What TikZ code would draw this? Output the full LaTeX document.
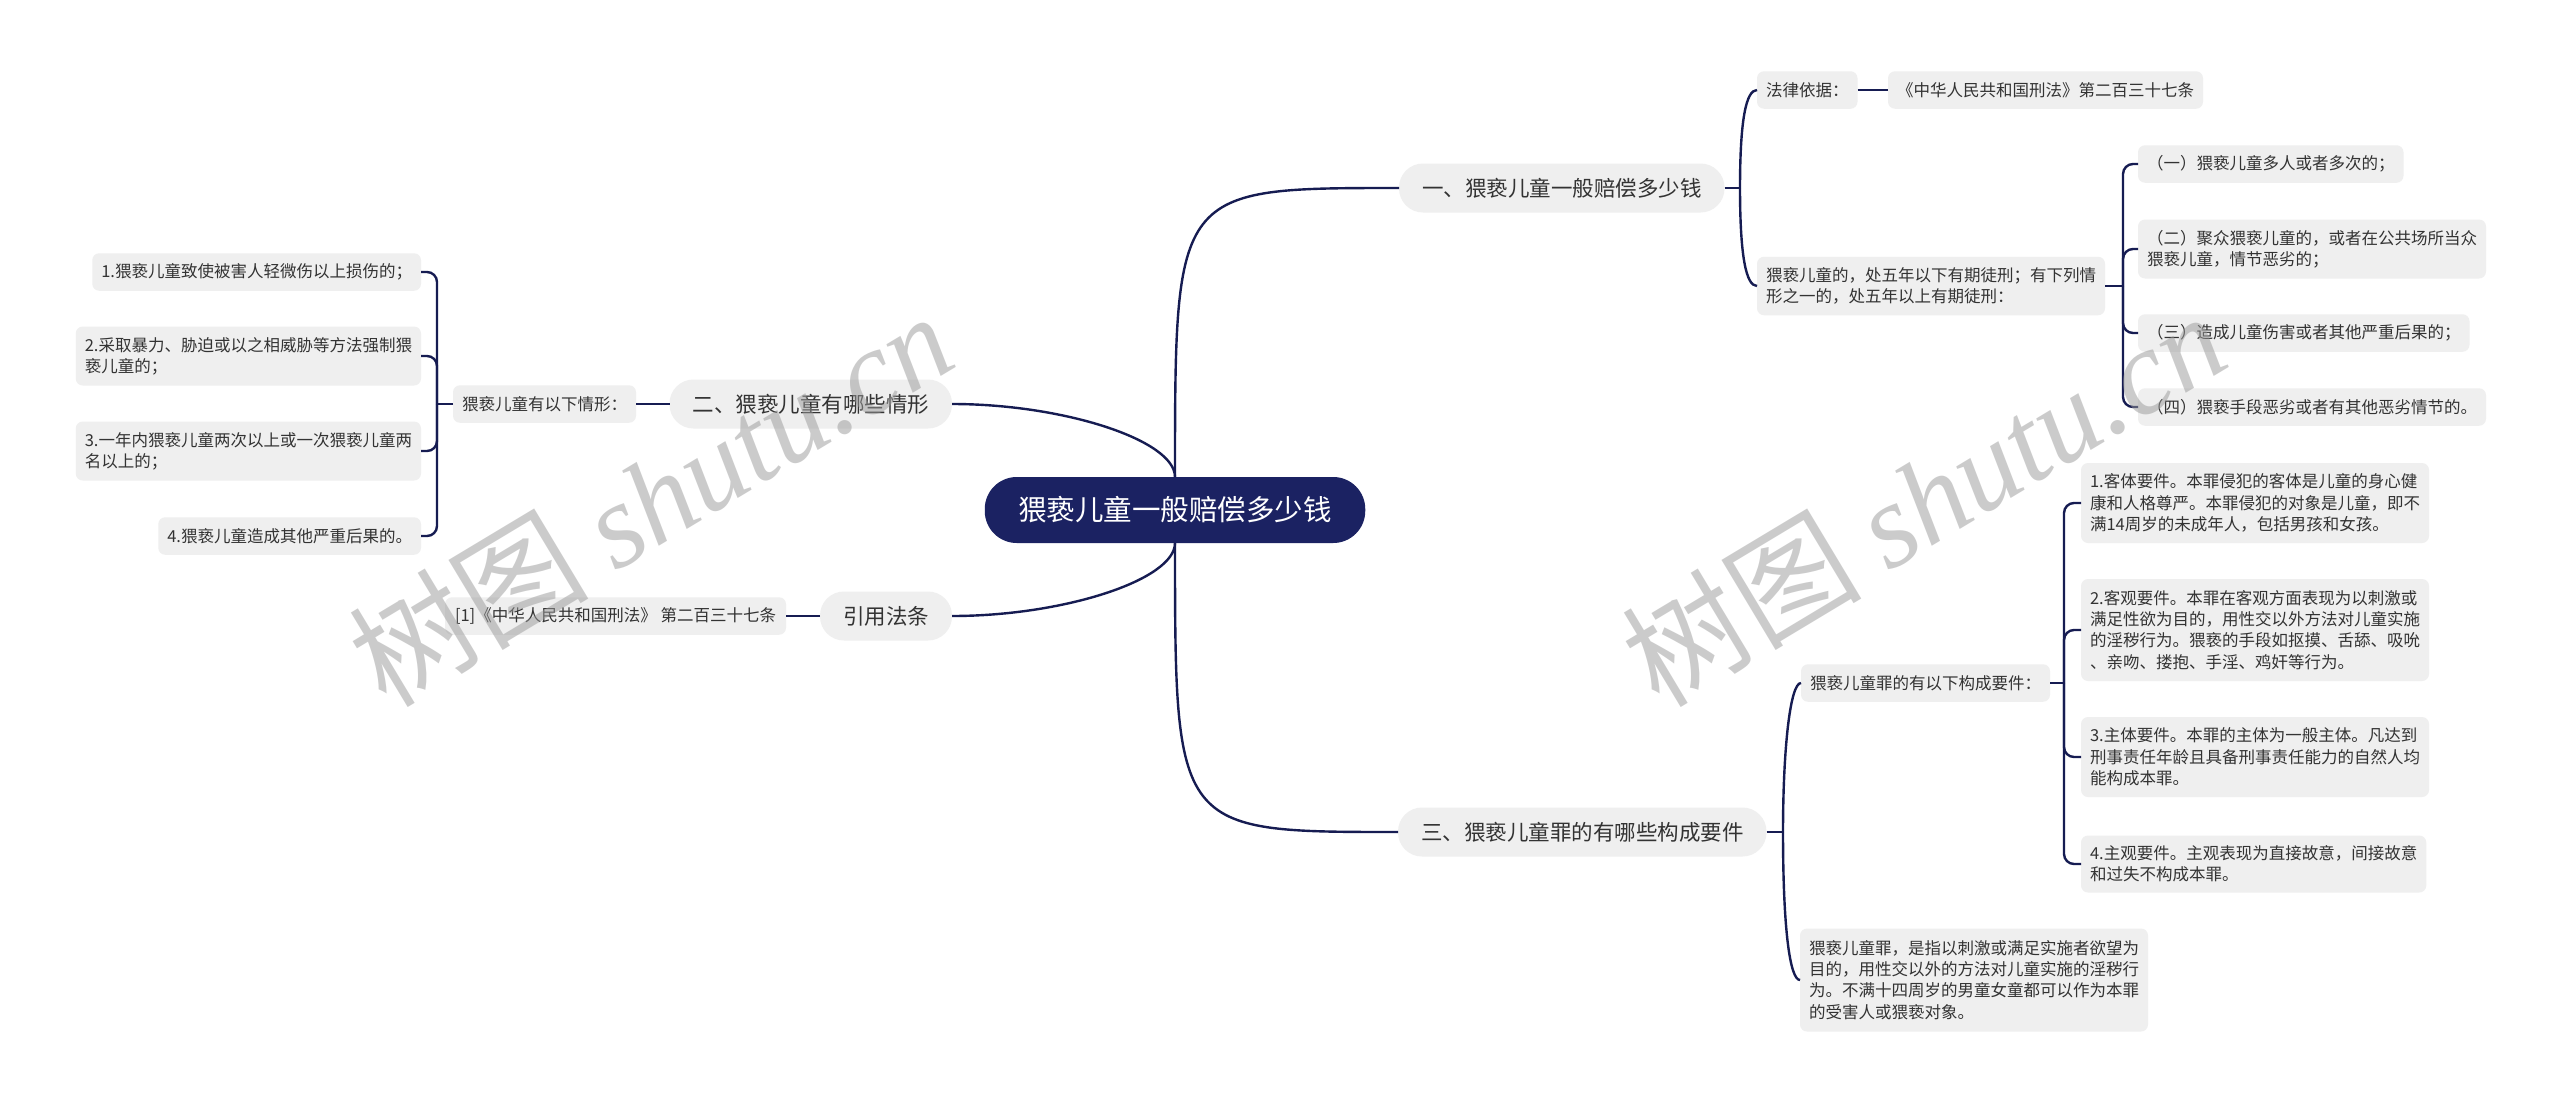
\documentclass[tikz,border=0pt]{standalone}
\usepackage{fontspec}
\newfontfamily\cjk{Noto Sans CJK SC}
\newfontfamily\wmserif{Liberation Serif}
\definecolor{navy}{RGB}{27,34,98}
\definecolor{lnc}{RGB}{22,28,82}
\definecolor{boxg}{RGB}{239,239,239}
\definecolor{txt}{RGB}{51,51,51}
\begin{document}
\begin{tikzpicture}[x=1pt,y=-1pt,
  every node/.style={inner sep=0pt, outer sep=0pt},
  leaf/.style={fill=boxg, rounded corners=7pt, text=txt, align=left,
    font=\cjk\fontsize{16.5}{21.3}\selectfont, inner xsep=9pt, inner ysep=3pt,
    minimum height=37.5pt},
  branch/.style={fill=boxg, rounded corners=24pt, text=txt,
    font=\cjk\fontsize{21.5}{26}\selectfont, inner xsep=23pt, inner ysep=3pt,
    minimum height=49pt},
  rootbox/.style={fill=navy, rounded corners=32pt, text=white,
    font=\cjk\fontsize{28.5}{34}\selectfont, inner xsep=33.5pt, inner ysep=3pt,
    minimum height=66pt},
  conn/.style={draw=lnc, line width=2.4pt},
  fork/.style={draw=lnc, line width=2.4pt, rounded corners=10pt},
  wmark/.style={rotate=31, text=black!40, opacity=0.5,
    font=\cjk\fontsize{120}{120}\selectfont}
]
\fill[white] (0,0) rectangle (2560,1103);
\useasboundingbox (0,0) rectangle (2560,1103);

% root and branches
\node[rootbox] (root) at (1175,510) {猥亵儿童一般赔偿多少钱};
\node[branch, anchor=west] (b1) at (1399,188) {一、猥亵儿童一般赔偿多少钱};
\node[branch, anchor=east] (b2) at (952,404) {二、猥亵儿童有哪些情形};
\node[branch, anchor=east] (b3) at (952,616) {引用法条};
\node[branch, anchor=west] (b4) at (1398,832) {三、猥亵儿童罪的有哪些构成要件};

% branch 1
\node[leaf, anchor=west] (l1) at (1757,90) {法律依据：};
\node[leaf, anchor=west] (l1b) at (1888,90) {《中华人民共和国刑法》第二百三十七条};
\node[leaf, anchor=west, minimum height=58.5pt] (l2) at (1757,286) {猥亵儿童的，处五年以下有期徒刑；有下列情\\形之一的，处五年以上有期徒刑：};
\node[leaf, anchor=west] (m1) at (2138,164) {（一）猥亵儿童多人或者多次的；};
\node[leaf, anchor=west, minimum height=59pt] (m2) at (2138,249) {（二）聚众猥亵儿童的，或者在公共场所当众\\猥亵儿童，情节恶劣的；};
\node[leaf, anchor=west] (m3) at (2138,333) {（三）造成儿童伤害或者其他严重后果的；};
\node[leaf, anchor=west] (m4) at (2138,407) {（四）猥亵手段恶劣或者有其他恶劣情节的。};

% branch 2
\node[leaf, anchor=east] (q) at (636,404) {猥亵儿童有以下情形：};
\node[leaf, anchor=east] (c1) at (421,272) {1.猥亵儿童致使被害人轻微伤以上损伤的；};
\node[leaf, anchor=east, minimum height=59pt] (c2) at (421,356) {2.采取暴力、胁迫或以之相威胁等方法强制猥\\亵儿童的；};
\node[leaf, anchor=east, minimum height=59pt] (c3) at (421,451) {3.一年内猥亵儿童两次以上或一次猥亵儿童两\\名以上的；};
\node[leaf, anchor=east] (c4) at (421,536) {4.猥亵儿童造成其他严重后果的。};

% branch 引用法条
\node[leaf, anchor=east, minimum width=341pt] (r) at (786,616) {[1]《中华人民共和国刑法》 第二百三十七条};

% branch 3
\node[leaf, anchor=west] (k) at (1801,683) {猥亵儿童罪的有以下构成要件：};
\node[leaf, anchor=west, minimum height=103pt] (d) at (1800,980) {猥亵儿童罪，是指以刺激或满足实施者欲望为\\目的，用性交以外的方法对儿童实施的淫秽行\\为。不满十四周岁的男童女童都可以作为本罪\\的受害人或猥亵对象。};
\node[leaf, anchor=west, minimum height=80pt] (k1) at (2081,503) {1.客体要件。本罪侵犯的客体是儿童的身心健\\康和人格尊严。本罪侵犯的对象是儿童，即不\\满14周岁的未成年人，包括男孩和女孩。};
\node[leaf, anchor=west, minimum height=102pt] (k2) at (2081,630) {2.客观要件。本罪在客观方面表现为以刺激或\\满足性欲为目的，用性交以外方法对儿童实施\\的淫秽行为。猥亵的手段如抠摸、舌舔、吸吮\\、亲吻、搂抱、手淫、鸡奸等行为。};
\node[leaf, anchor=west, minimum height=80pt] (k3) at (2081,757) {3.主体要件。本罪的主体为一般主体。凡达到\\刑事责任年龄且具备刑事责任能力的自然人均\\能构成本罪。};
\node[leaf, anchor=west, minimum height=57pt] (k4) at (2081,864) {4.主观要件。主观表现为直接故意，间接故意\\和过失不构成本罪。};

% junction points
\coordinate (j1) at (1740,188);
\coordinate (j2) at (2123,286);
\coordinate (jq) at (437,404);
\coordinate (j4) at (1783,832);
\coordinate (jk) at (2064,683);

% root connectors
\draw[conn] (root.north) .. controls (1175,188) .. (b1.west);
\draw[conn] (root.south) .. controls (1175,832) .. (b4.west);
\draw[conn] (root.north) .. controls (1175,440) and (1063,404) .. (b2.east);
\draw[conn] (root.south) .. controls (1175,580) and (1063,616) .. (b3.east);

% branch 1 connectors
\draw[conn] (b1.east) -- (j1);
\draw[conn] (j1) .. controls (1740,120) and (1746,90) .. (l1.west);
\draw[conn] (j1) .. controls (1740,256) and (1746,286) .. (l2.west);
\draw[conn] (l1.east) -- (l1b.west);
\draw[conn] (l2.east) -- (j2);
\draw[fork] (j2) |- (m1.west);
\draw[fork] (j2) |- (m2.west);
\draw[fork] (j2) |- (m3.west);
\draw[fork] (j2) |- (m4.west);

% branch 2 connectors
\draw[conn] (b2.west) -- (q.east);
\draw[conn] (q.west) -- (jq);
\draw[fork] (jq) |- (c1.east);
\draw[fork] (jq) |- (c2.east);
\draw[fork] (jq) |- (c3.east);
\draw[fork] (jq) |- (c4.east);

% branch 引用法条 connector
\draw[conn] (b3.west) -- (r.east);

% branch 3 connectors
\draw[conn] (b4.east) -- (j4);
\draw[conn] (j4) .. controls (1783,750) and (1790,683) .. (k.west);
\draw[conn] (j4) .. controls (1783,930) and (1790,980) .. (d.west);
\draw[conn] (k.east) -- (jk);
\draw[fork] (jk) |- (k1.west);
\draw[fork] (jk) |- (k2.west);
\draw[fork] (jk) |- (k3.west);
\draw[fork] (jk) |- (k4.west);

% watermarks
\node[wmark] (wm1) at (650,498) {树图 {\wmserif\itshape shutu.cn}};
\node[wmark] (wm2) at (1923,498) {树图 {\wmserif\itshape shutu.cn}};
\end{tikzpicture}
\end{document}
